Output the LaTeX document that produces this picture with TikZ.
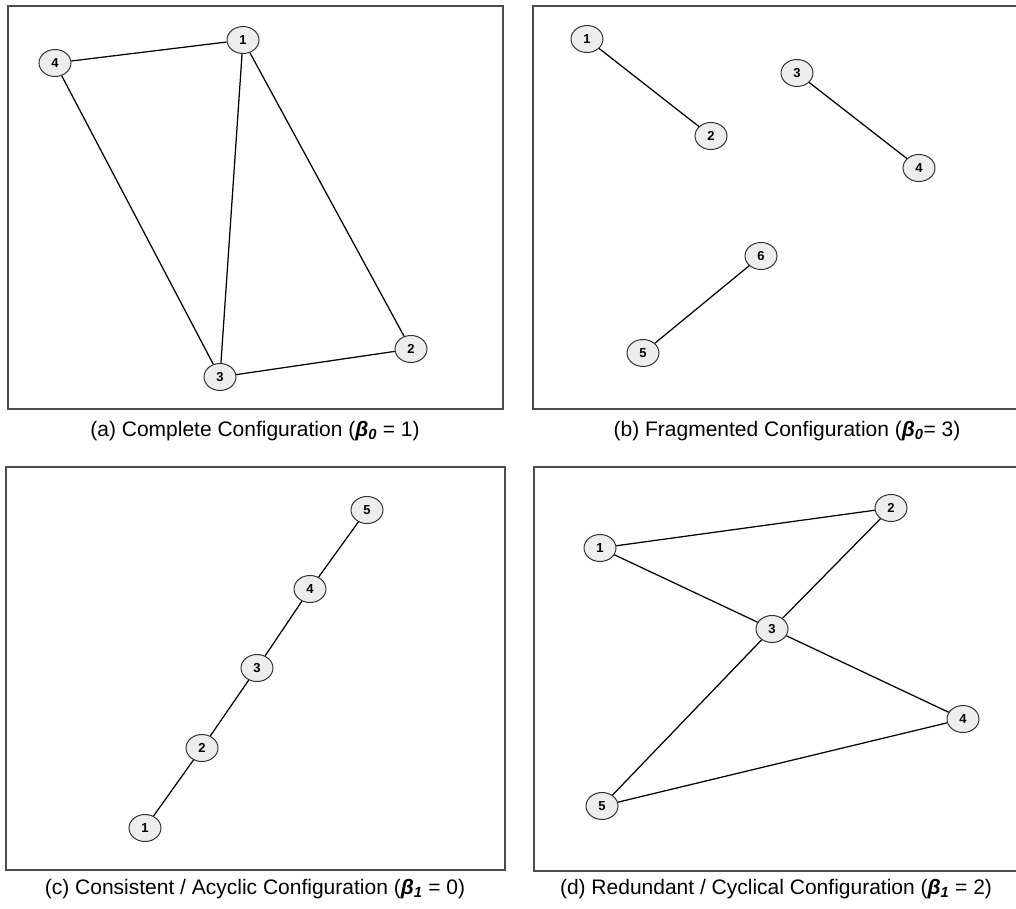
\documentclass[tikz,border=0pt]{standalone}
\usepackage{fontspec}
\setmainfont{Liberation Sans}
\usetikzlibrary{shapes.geometric}
\begin{document}
\begin{tikzpicture}[x=1pt,y=-1pt,
  vtx/.style={ellipse,draw=black!80,fill=black!7,line width=1pt,
    minimum width=32pt,minimum height=27pt,inner sep=0pt,
    font=\fontsize{13}{13}\selectfont\bfseries},
  link/.style={draw=black,line width=1.25pt},
  panel/.style={draw=black!70,line width=1.7pt},
  caption/.style={font=\fontsize{21}{24}\selectfont,anchor=center,inner sep=0pt}]
\useasboundingbox (0,0) rectangle (1016,909);
\clip (0,0) rectangle (1016,909);

% panel frames
\draw[panel] (8,6) rectangle (503,409);
\draw[panel] (533,6) rectangle (1030,409);
\draw[panel] (6,467) rectangle (505,870);
\draw[panel] (534,467) rectangle (1030,871);

% (a) complete configuration
\node[vtx] (a1) at (243,40) {1};
\node[vtx] (a4) at (55,63) {4};
\node[vtx] (a3) at (220,377) {3};
\node[vtx] (a2) at (411,349) {2};
\draw[link] (a4) -- (a1);
\draw[link] (a4) -- (a3);
\draw[link] (a1) -- (a3);
\draw[link] (a1) -- (a2);
\draw[link] (a3) -- (a2);

% (b) fragmented configuration
\node[vtx] (b1) at (587,39) {1};
\node[vtx] (b2) at (711,136) {2};
\node[vtx] (b3) at (797,73) {3};
\node[vtx] (b4) at (919,168) {4};
\node[vtx] (b6) at (761,256) {6};
\node[vtx] (b5) at (643,353) {5};
\draw[link] (b1) -- (b2);
\draw[link] (b3) -- (b4);
\draw[link] (b6) -- (b5);

% (c) acyclic chain
\node[vtx] (c5) at (367,510) {5};
\node[vtx] (c4) at (310,589) {4};
\node[vtx] (c3) at (257,668) {3};
\node[vtx] (c2) at (202,748) {2};
\node[vtx] (c1) at (145,828) {1};
\draw[link] (c5) -- (c4);
\draw[link] (c4) -- (c3);
\draw[link] (c3) -- (c2);
\draw[link] (c2) -- (c1);

% (d) cyclical configuration
\node[vtx] (d2) at (891,508) {2};
\node[vtx] (d1) at (600,548) {1};
\node[vtx] (d3) at (772,629) {3};
\node[vtx] (d4) at (963,719) {4};
\node[vtx] (d5) at (602,806) {5};
\draw[link] (d1) -- (d2);
\draw[link] (d1) -- (d3);
\draw[link] (d2) -- (d3);
\draw[link] (d3) -- (d4);
\draw[link] (d3) -- (d5);
\draw[link] (d5) -- (d4);

% captions
\node[caption] (capa) at (255,431) {(a) Complete Configuration ({\bfseries\itshape β\textsubscript{0}} = 1)};
\node[caption] (capb) at (787,431) {(b) Fragmented Configuration ({\bfseries\itshape β\textsubscript{0}}= 3)};
\node[caption] (capc) at (255,889) {(c) Consistent / Acyclic Configuration ({\bfseries\itshape β\textsubscript{1}} = 0)};
\node[caption] (capd) at (776,889) {(d) Redundant / Cyclical Configuration ({\bfseries\itshape β\textsubscript{1}} = 2)};
\end{tikzpicture}
\end{document}
